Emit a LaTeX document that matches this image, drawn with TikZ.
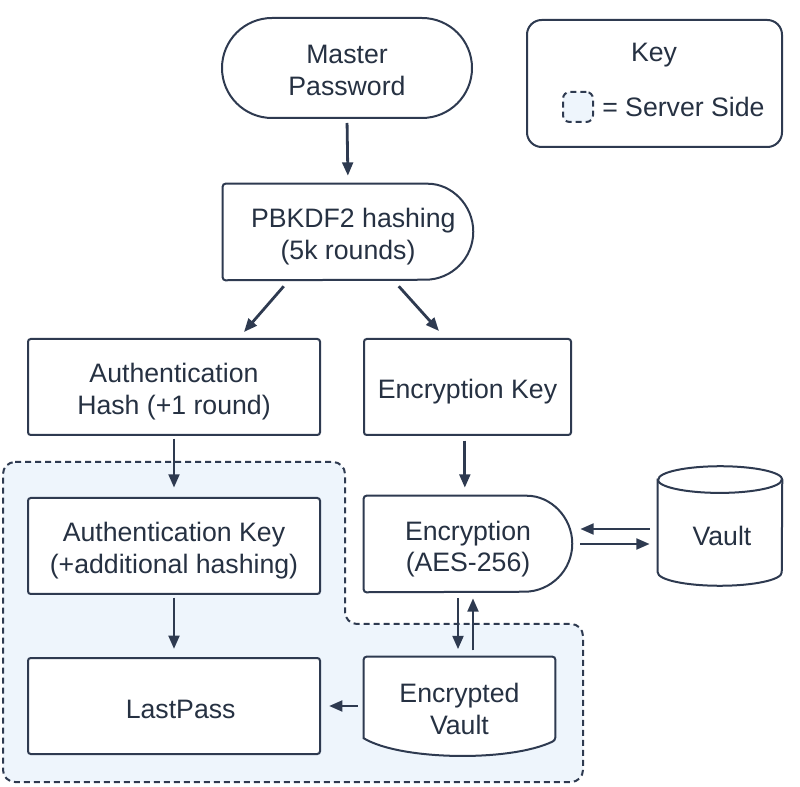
\documentclass[tikz,border=0pt]{standalone}
\usepackage{fontspec}
\setmainfont{Liberation Sans}
\usetikzlibrary{shapes.misc,arrows.meta,calc}
\definecolor{ink}{HTML}{2E3A50}
\definecolor{txt}{HTML}{263142}
\definecolor{srv}{HTML}{EEF5FC}
\pgfdeclarelayer{bgzero}
\pgfdeclarelayer{bgone}
\pgfsetlayers{bgzero,bgone,main}
\newcommand\tsx{\rule{0pt}{22.5pt}}
\newcommand\bsx{\rule[-4.5pt]{0pt}{0pt}}
\begin{document}
\begin{tikzpicture}[x=0.75pt,y=-0.75pt,
  lbl/.style={align=center,text=txt,font=\fontsize{20}{24}\selectfont,inner sep=0pt},
  box/.style={lbl,draw=ink,line width=1.5pt,fill=white,rounded corners=2pt,minimum width=219pt,minimum height=72pt},
  ghost/.style={lbl,draw=none,minimum height=72pt},
  outline/.style={draw=ink,line width=1.5pt,fill=white},
  arr/.style={draw=ink,line width=2.1pt,-{Triangle[length=10pt,width=8pt]}},
  srvline/.style={draw=ink,line width=1.5pt,dash pattern=on 4.5pt off 3pt,fill=srv}
]
\useasboundingbox (0,0) rectangle (800,787);

% server side region
\begin{pgfonlayer}{bgzero}
\path[srvline,rounded corners=9pt] (3,462) -- (345,462) -- (345,624) -- (583,624) -- (583,782) -- (3,782) -- cycle;
\end{pgfonlayer}

% nodes
\node[lbl,draw=ink,line width=1.5pt,fill=white,rounded rectangle,minimum width=187.5pt,minimum height=75pt] (mp) at (347,68) {\tsx Master\\Password\bsx};
\node[ghost,minimum width=187.5pt] (pb) at (348,232) {\tsx\hspace*{8pt}PBKDF2 hashing\\(5k rounds)\bsx};
\node[box] (ah) at (174,387) {\tsx Authentication\\Hash (+1 round)\bsx};
\node[box,minimum width=155.25pt] (ek) at (467.5,387) {\tsx Encryption Key\bsx};
\node[box] (ak) at (174,546) {\tsx Authentication Key\\(+additional hashing)\bsx};
\node[box] (lp) at (174,706) {\tsx\hspace*{10pt}LastPass\bsx};
\node[ghost,minimum width=156pt] (en) at (468,544) {\tsx Encryption\\(AES-256)\bsx};
\node[ghost,minimum width=143.25pt,minimum height=73.5pt] (ev) at (459.5,706) {\tsx Encrypted\\Vault\bsx};
\node[ghost,minimum width=93pt,minimum height=89.25pt] (va) at (720,526) {\tsx\hspace*{3pt}\raisebox{-7pt}{Vault}\bsx};

% key
\node[draw=ink,line width=1.5pt,fill=white,rounded corners=11pt,minimum width=191.25pt,minimum height=95.25pt] (kb) at (654.5,83.5) {};
\node[lbl] (keyt) at (654,55) {Key};
\node[srvline,rounded corners=5pt,minimum width=22.5pt,minimum height=22.5pt,inner sep=0pt] (ks) at (578,107) {};
\node[lbl,anchor=west] (kst) at (602,107) {= Server Side};

% custom outlines
\begin{pgfonlayer}{bgone}
\path[outline,rounded corners=2pt] (pb.south west) -- (pb.north west) -- ([xshift=-36pt]pb.north east) [sharp corners] arc[start angle=90,end angle=-90,radius=36pt] [rounded corners=2pt] -- cycle;
\path[outline,rounded corners=2pt] (en.south west) -- (en.north west) -- ([xshift=-36pt]en.north east) [sharp corners] arc[start angle=90,end angle=-90,radius=36pt] [rounded corners=2pt] -- cycle;
\path[outline] ($(ev.south west)+(0,-17)$) [rounded corners=2pt] -- (ev.north west) -- (ev.north east) -- ($(ev.south east)+(0,-15)$) [sharp corners] .. controls ($(ev.south)+(50.5,7)$) and ($(ev.south)+(-59.5,5)$) .. ($(ev.south west)+(0,-17)$) -- cycle;
\path[outline] ([yshift=-10pt]va.north west) -- ([yshift=10pt]va.south west) arc[start angle=180,end angle=360,x radius=46.5pt,y radius=10pt] -- ([yshift=-10pt]va.north east) arc[start angle=0,end angle=180,x radius=46.5pt,y radius=10pt] -- cycle;
\draw[draw=ink,line width=1.5pt] ([yshift=-10pt]va.north west) arc[start angle=180,end angle=360,x radius=46.5pt,y radius=10pt];
\end{pgfonlayer}

% connectors
\draw[arr,shorten <=3pt,shorten >=6pt] (mp.south) -- (pb.north);
\draw[arr] ($(pb.south west)+(61,6)$) -- ($(ah.north east)+(-77,-6)$);
\draw[arr] ($(pb.south west)+(176,6)$) -- ($(ek.north west)+(76,-7)$);
\draw[arr,shorten <=2pt,shorten >=7pt] (ah.south) -- (ak.north);
\draw[arr,shorten <=3.5pt,shorten >=6pt] ([xshift=-2pt]ek.south) -- ([xshift=-2pt]ek.south |- en.north);
\draw[arr,shorten <=2pt,shorten >=6pt] (ak.south) -- (lp.north);
\draw[arr] ($(en.south)+(-10,6)$) -- ($(en.south)+(-10,57)$);
\draw[arr] ($(en.south)+(5,58)$) -- ($(en.south)+(5,6)$);
\draw[arr,shorten <=4.5pt,shorten >=6pt] (ev.west |- lp.east) -- (lp.east);
\draw[arr] ($(va.west |- en.east)+(-8,-15)$) -- ($(en.east)+(8,-15)$);
\draw[arr] ($(en.east)+(8,0)$) -- ($(va.west |- en.east)+(-8,0)$);
\end{tikzpicture}
\end{document}
